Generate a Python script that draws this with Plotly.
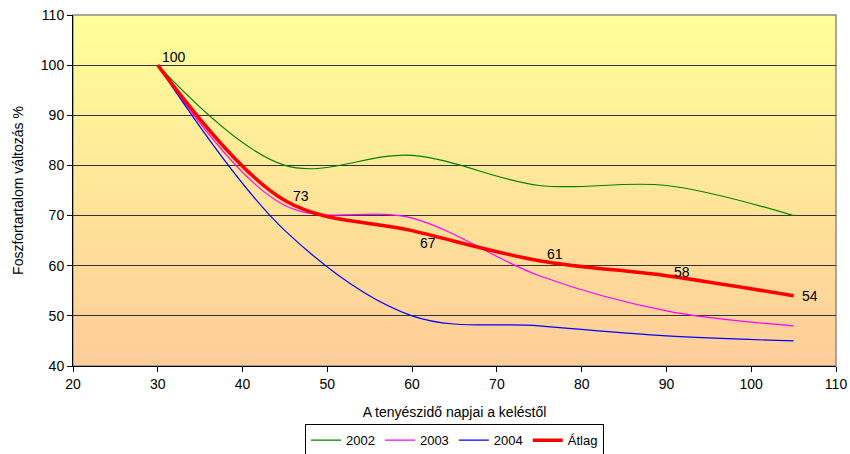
import plotly.graph_objects as go

days = [30, 45, 60, 75, 90, 105]
y2002 = [100, 80, 82, 76, 76, 70]
y2003 = [100, 72, 69.5, 58, 51, 48]
y2004 = [100, 67, 50, 48, 46, 45]
atlag = [100, 73, 67, 61, 58, 54]
atlag_labels = ["100", "73", "67", "61", "58", "54"]

fig = go.Figure()

# gradient background of plot area
n = 80
top = (255, 255, 153)
bot = (255, 204, 153)
for i in range(n):
    t = (i + 0.5) / n
    c = tuple(round(bot[k] + (top[k] - bot[k]) * t) for k in range(3))
    fig.add_shape(type="rect", xref="x domain", yref="y domain",
                  x0=0, x1=1, y0=i / n, y1=(i + 1) / n + 0.002,
                  fillcolor="rgb(%d,%d,%d)" % c, line=dict(width=0), layer="below")

# plot area border (top/right gray)
fig.add_shape(type="rect", xref="x domain", yref="y domain", x0=0, x1=1, y0=0, y1=1,
              line=dict(color="#8c8c8c", width=1.5), fillcolor="rgba(0,0,0,0)", layer="below")

series = [("2002", y2002, "#008000", 1.2), ("2003", y2003, "#FF00FF", 1.2),
          ("2004", y2004, "#0000FF", 1.2), ("Átlag", atlag, "#FF0000", 3.5)]
for name, ys, col, w in series:
    fig.add_trace(go.Scatter(x=days, y=ys, name=name, mode="lines",
                             line=dict(color=col, width=w, shape="spline", smoothing=1.0)))

yshifts = [8, 5, -12, 7, 4, 0]
for d, v, lab, ys in zip(days, atlag, atlag_labels, yshifts):
    fig.add_annotation(x=d, y=v, text=lab, showarrow=False, xanchor="left",
                       xshift=2 if lab == "100" else 6, yshift=ys,
                       font=dict(family="Liberation Sans, Arial", size=14, color="black"))

fig.update_layout(
    width=850, height=454,
    margin=dict(l=73, r=14, t=15, b=88, autoexpand=False),
    paper_bgcolor="white", plot_bgcolor="rgba(0,0,0,0)",
    font=dict(family="Liberation Sans, Arial", size=14, color="black"),
    showlegend=True,
    legend=dict(orientation="h", x=0.5, xanchor="center", y=-0.166, yanchor="top",
                bordercolor="black", borderwidth=1, bgcolor="white",
                font=dict(size=13), itemwidth=30, tracegroupgap=0),
    xaxis=dict(range=[20, 110], dtick=10, tick0=20, showgrid=False, zeroline=False,
               showline=True, linecolor="black", linewidth=1, ticks="outside",
               ticklen=5, tickcolor="black", automargin=False,
               title=dict(text="A tenyészidő napjai a keléstől", standoff=16, font=dict(size=14))),
    yaxis=dict(range=[40, 110], dtick=10, tick0=40, showgrid=True, gridcolor="#333333",
               gridwidth=1, zeroline=False, showline=True, linecolor="black", linewidth=1,
               ticks="outside", ticklen=5, tickcolor="black", automargin=False,
               title=dict(text="Foszfortartalom változás %", standoff=13, font=dict(size=14))),
)

# remove the default 8px page margin so the 850x454 figure fills the window exactly
fig.write_html("out.html", config={"displayModeBar": False},
               post_script="document.body.style.margin='0';document.body.style.overflow='hidden';")
